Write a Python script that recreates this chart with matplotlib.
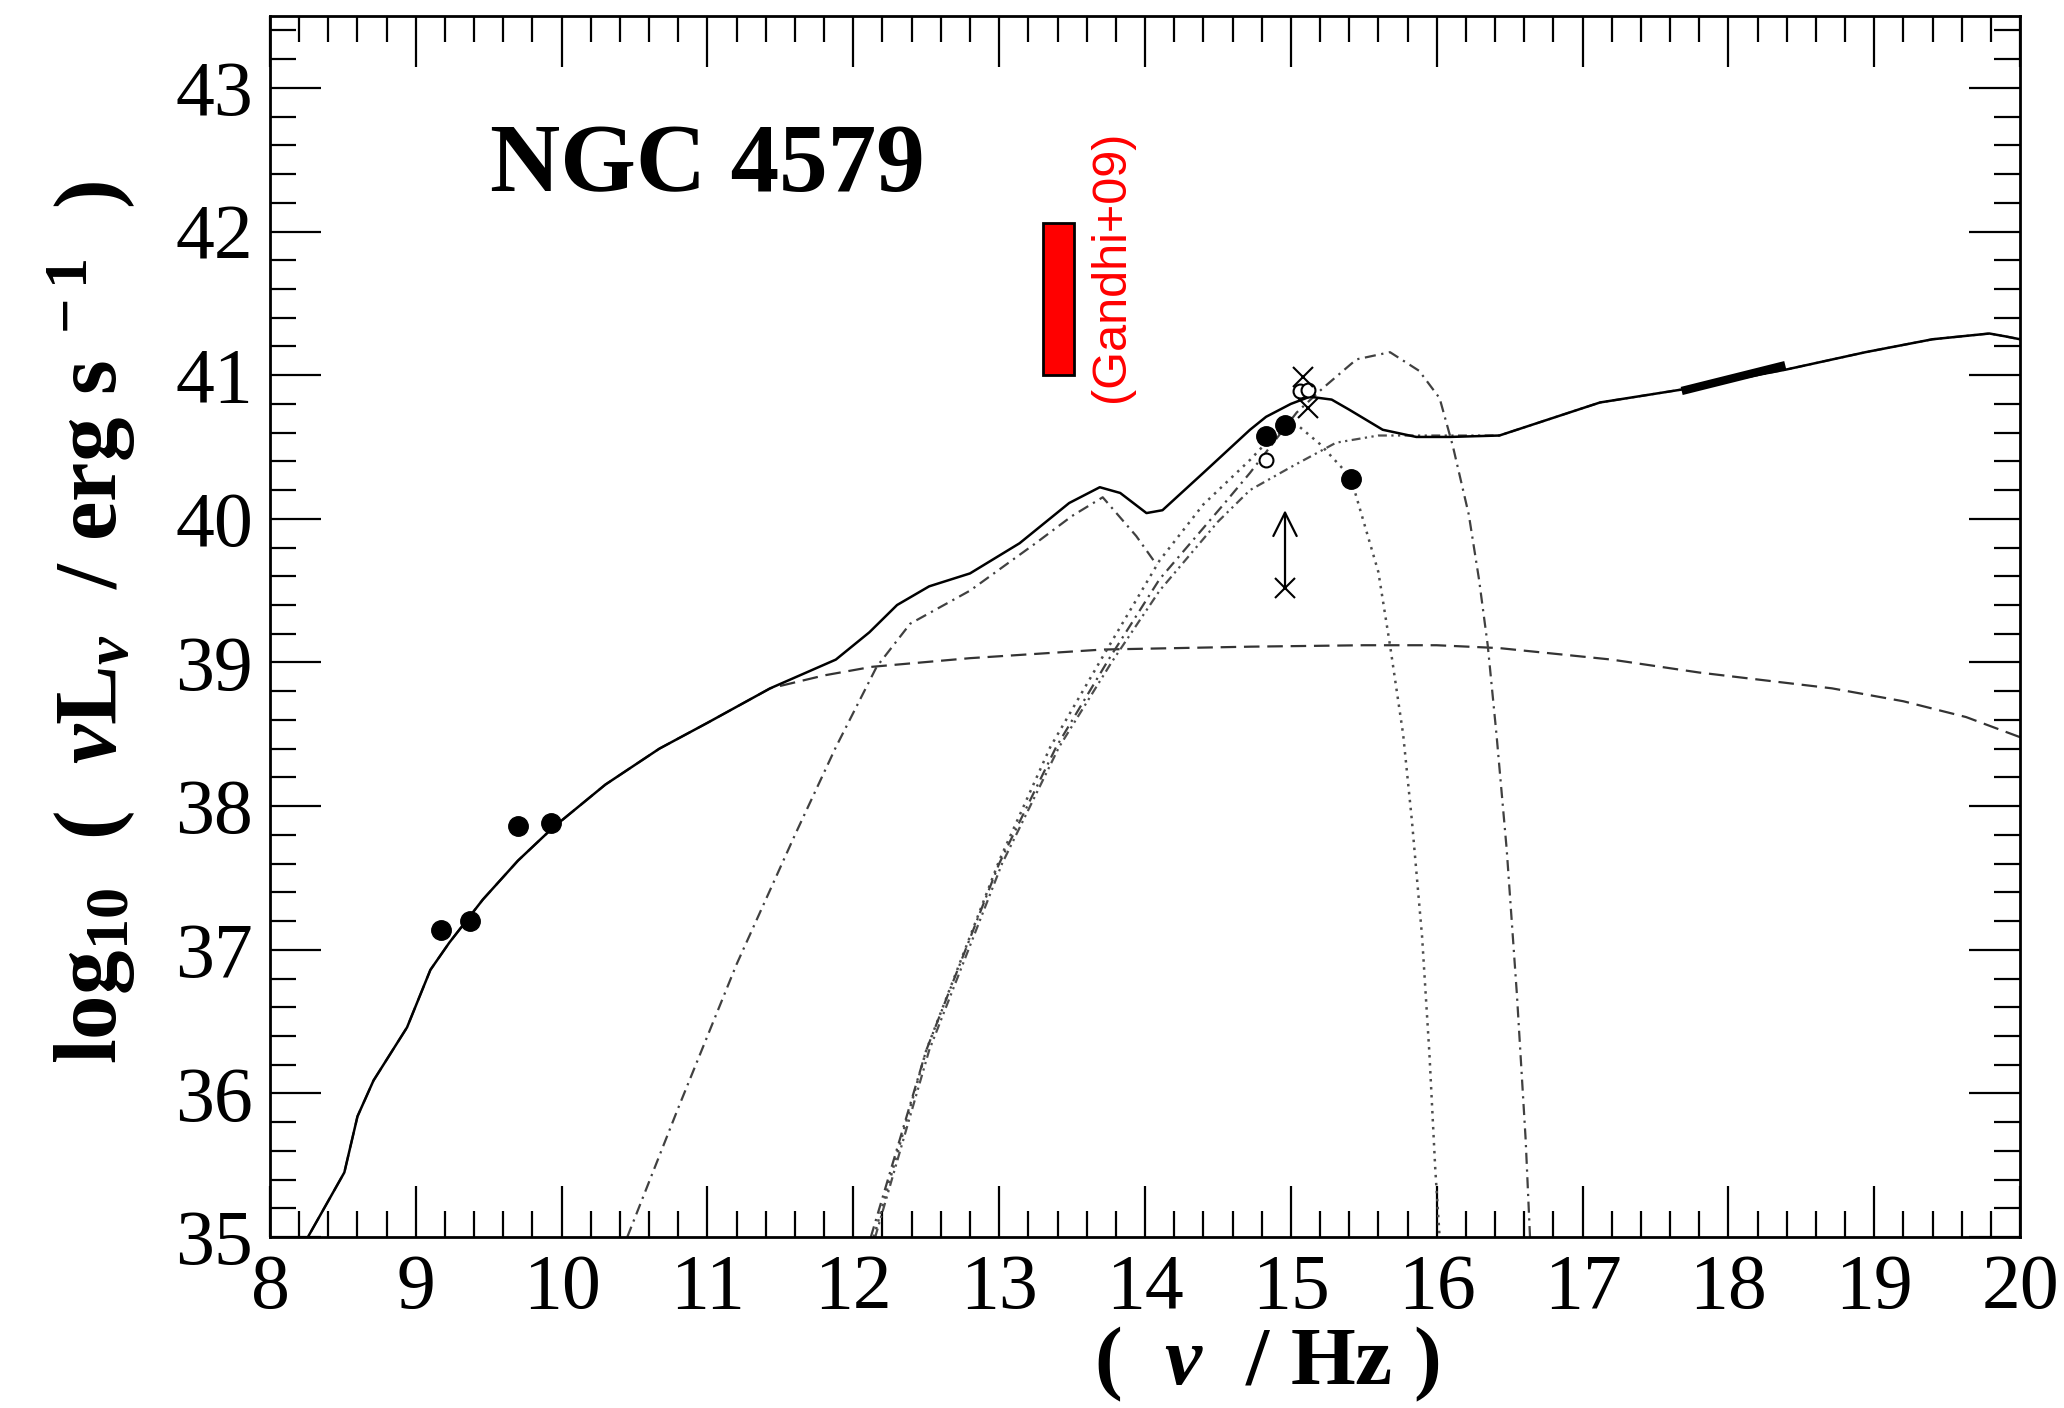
import matplotlib
matplotlib.use("Agg")
import matplotlib.pyplot as plt
from matplotlib.patches import Rectangle
from matplotlib.ticker import MultipleLocator

# --- datos (log nu, log nuL_nu) ---
# SED total (linea continua)
total_nu = [8.2, 8.26, 8.51, 8.6, 8.71, 8.94, 9.1, 9.23, 9.46, 9.7, 9.94, 10.3, 10.67, 11.0,
            11.43, 11.88, 12.11, 12.3, 12.52, 12.8, 13.14, 13.48, 13.69, 13.83, 14.01, 14.12,
            14.4, 14.72, 14.83, 15.0, 15.13, 15.28, 15.4, 15.63, 15.86, 16.09, 16.43, 17.12,
            17.68, 18.4, 18.94, 19.4, 19.79, 19.9, 20.0]
total_L = [34.9, 35.0, 35.45, 35.84, 36.09, 36.46, 36.86, 37.05, 37.35, 37.62, 37.85, 38.15, 38.4, 38.58,
           38.82, 39.02, 39.21, 39.4, 39.53, 39.62, 39.83, 40.11, 40.22, 40.18, 40.04, 40.06,
           40.32, 40.62, 40.71, 40.8, 40.85, 40.83, 40.76, 40.62, 40.57, 40.57, 40.58, 40.81,
           40.9, 41.04, 41.16, 41.25, 41.29, 41.27, 41.25]

# jet (discontinua)
jet_nu = [8.2, 8.26, 8.51, 8.6, 8.71, 8.94, 9.1, 9.23, 9.46, 9.7, 9.94, 10.3, 10.67, 11.0, 11.43,
          11.8, 12.13, 12.8, 13.71, 14.72, 15.5, 16.0, 16.43, 17.2, 17.8, 18.71, 19.2, 19.63, 20.0]
jet_L = [34.9, 35.0, 35.45, 35.84, 36.09, 36.46, 36.86, 37.05, 37.35, 37.62, 37.85, 38.15, 38.4, 38.58, 38.82,
         38.91, 38.97, 39.03, 39.09, 39.11, 39.12, 39.12, 39.1, 39.02, 38.93, 38.82, 38.73, 38.62, 38.48]

# toro de polvo
torus_nu = [10.45, 10.8, 11.2, 11.6, 11.88, 12.16, 12.39, 12.8, 13.25, 13.5, 13.71, 13.94, 14.08]
torus_L = [35.0, 35.9, 36.9, 37.8, 38.41, 38.97, 39.27, 39.5, 39.83, 40.02, 40.15, 39.88, 39.68]

# estrellas (punteada)
star_nu = [12.14, 12.5, 13.0, 13.35, 13.71, 14.1, 14.4, 14.72, 14.85, 15.0, 15.06, 15.2, 15.41,
           15.6, 15.68, 15.77, 15.83, 15.9, 15.95, 15.99, 16.02]
star_L = [35.0, 36.3, 37.62, 38.41, 39.04, 39.71, 40.1, 40.41, 40.55, 40.64, 40.64, 40.52, 40.29,
          39.63, 39.12, 38.5, 37.9, 37.09, 36.28, 35.48, 35.0]

# disco (big blue bump)
disk_nu = [12.12, 12.5, 13.0, 13.39, 13.75, 14.1, 14.53, 14.72, 15.04, 15.22, 15.45, 15.68, 15.88,
           16.02, 16.11, 16.22, 16.29, 16.35, 16.41, 16.48, 16.55, 16.61, 16.64]
disk_L = [35.0, 36.3, 37.6, 38.41, 39.02, 39.58, 40.09, 40.32, 40.74, 40.91, 41.11, 41.16, 41.03,
          40.84, 40.51, 40.03, 39.58, 39.12, 38.5, 37.7, 36.69, 35.68, 35.0]

# ADAF / corona
adaf_nu = [12.15, 12.52, 13.02, 13.41, 13.77, 14.1, 14.5, 14.72, 15.0, 15.31, 15.6, 16.09, 16.43,
           17.12, 17.68, 18.4, 18.94, 19.4, 19.79, 19.9, 20.0]
adaf_L = [35.0, 36.3, 37.6, 38.41, 39.0, 39.5, 39.98, 40.2, 40.36, 40.53, 40.58, 40.58, 40.58,
          40.81, 40.9, 41.04, 41.16, 41.25, 41.29, 41.27, 41.25]

# puntos observados
obs_nu = [9.17, 9.37, 9.70, 9.93, 14.83, 14.96, 15.41]
obs_L = [37.14, 37.20, 37.86, 37.88, 40.58, 40.65, 40.28]
open_nu = [14.83, 15.06, 15.12]
open_L = [40.41, 40.89, 40.90]
cross_nu = [15.08, 15.12]
cross_L = [40.99, 40.77]
# limite (flecha)
lim_nu = 14.96
lim_L = [39.52, 40.06]
# rayos X
xray_nu = [17.68, 18.39]
xray_L = [40.89, 41.07]
# Gandhi+09
gandhi_nu = [13.30, 13.51]
gandhi_L = [41.0, 42.06]

plt.rcParams['font.family'] = ['Liberation Serif', 'DejaVu Serif']
plt.rcParams['mathtext.fontset'] = 'custom'
plt.rcParams['mathtext.rm'] = 'Liberation Serif:bold'
plt.rcParams['mathtext.bf'] = 'Liberation Serif:bold'
plt.rcParams['mathtext.it'] = 'Liberation Serif:italic:bold'

fig = plt.figure(figsize=(20.64, 14.08), dpi=100)
ax = fig.add_axes([0.1308, 0.1214, 0.8479, 0.8672])

ax.plot(jet_nu, jet_L, color='0.2', lw=1.6, dashes=(7, 3.5))
ax.plot(torus_nu, torus_L, color='0.25', lw=1.6, dashes=(5, 2.5, 1, 2.5))
ax.plot(star_nu, star_L, color='0.3', lw=1.8, dashes=(1, 2.2))
ax.plot(disk_nu, disk_L, color='0.25', lw=1.6, dashes=(5, 2.5, 1, 2.5))
ax.plot(adaf_nu, adaf_L, color='0.3', lw=1.6, dashes=(4, 2, 1, 2, 1, 2))
ax.plot(total_nu, total_L, color='black', lw=1.8)

ax.plot(obs_nu, obs_L, 'o', color='black', ms=14)
ax.plot(open_nu, open_L, 'o', mfc='white', mec='black', mew=1.5, ms=10)
ax.plot(cross_nu, cross_L, 'x', color='black', mew=1.5, ms=14)
ax.plot([lim_nu], [lim_L[0]], 'x', color='black', mew=1.5, ms=14)
ax.annotate('', xy=(lim_nu, lim_L[1]), xytext=(lim_nu, lim_L[0]),
            arrowprops=dict(arrowstyle='->', lw=1.6, color='black', mutation_scale=42,
                            shrinkA=0, shrinkB=0))
ax.plot(xray_nu, xray_L, color='black', lw=6, solid_capstyle='butt')

ax.add_patch(Rectangle((gandhi_nu[0], gandhi_L[0]), gandhi_nu[1] - gandhi_nu[0],
                       gandhi_L[1] - gandhi_L[0], fc='red', ec='black', lw=2, zorder=3))
ax.text(13.77, 41.76, '(Gandhi+09)', color='red', rotation=90, ha='center', va='center',
        fontsize=35, family='Liberation Sans')

ax.text(9.51, 42.28, 'NGC 4579', fontsize=70, fontweight='bold')

ax.set_xlim(8, 20)
ax.set_ylim(35, 43.5)
ax.set_xticks(range(8, 21))
ax.set_yticks(range(35, 44))
ax.xaxis.set_minor_locator(MultipleLocator(0.2))
ax.yaxis.set_minor_locator(MultipleLocator(0.2))
ax.tick_params(which='both', direction='in', top=True, right=True, width=1.6, labelsize=56)
ax.tick_params(which='major', length=37, pad=12)
ax.tick_params(which='minor', length=19)
for s in ax.spines.values():
    s.set_linewidth(2)

fig.text(0.0446, 0.558,
         r'$\mathrm{log}_{\mathrm{10}}\ \ \mathrm{(}\ \ \mathit{\nu}\mathrm{L}_{\mathit{\nu}}\ \ \mathrm{/\ erg\ s}^{\mathrm{\ -1}}\ \ \mathrm{)}$',
         rotation=90, ha='center', va='center', fontsize=64)
fig.text(0.614, 0.003, r'$\mathrm{(}\ \ \mathit{\nu}\ \ \mathrm{/\ Hz\ )}$', ha='center', va='bottom', fontsize=60)

fig.savefig('out.png', dpi=100)
